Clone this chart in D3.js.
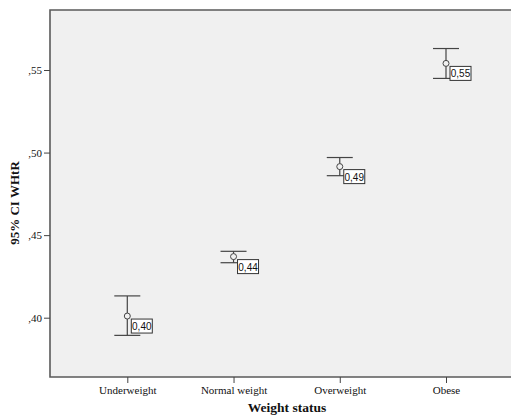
<!DOCTYPE html>
<html><head><meta charset="utf-8">
<script src="https://cdn.jsdelivr.net/npm/d3@7/dist/d3.min.js"></script>
<style>body{margin:0;background:#fff}svg{display:block}</style>
</head><body>
<svg id="c" width="511" height="418"></svg>
<script>
const categories = ["Underweight", "Normal weight", "Overweight", "Obese"];
const means = [0.401, 0.437, 0.4915, 0.554];
const lower = [0.3893, 0.4333, 0.486, 0.5449];
const upper = [0.4132, 0.4402, 0.497, 0.563];
const labels = ["0,40", "0,44", "0,49", "0,55"];
const yTicks = [0.40, 0.45, 0.50, 0.55];
const yTickLabels = [",40", ",45", ",50", ",55"];

const svg = d3.select("#c");
const L = 50, T = 10, B = 377, R = 530;
const x = d3.scalePoint().domain(categories).range([127.3, 446]);
const y = d3.scaleLinear().domain([0.40, 0.55]).range([317.7, 70]);

svg.append("rect").attr("x", L).attr("y", T).attr("width", R - L).attr("height", B - T)
  .attr("fill", "#f0f0f0").attr("stroke", "none");
svg.append("path").attr("d", `M${R},${T}H${L}V${B}H${R}`).attr("fill", "none")
  .attr("stroke", "#5a5a5a").attr("stroke-width", 1.6);

const yAxis = svg.append("g").attr("transform", `translate(${L},0)`)
  .call(d3.axisLeft(y).tickValues(yTicks).tickSize(6).tickPadding(2)
    .tickFormat((d, i) => yTickLabels[i]));
yAxis.select(".domain").remove();
yAxis.selectAll("line").attr("stroke", "#444");
yAxis.selectAll("text").attr("font-family", "Liberation Serif").attr("font-size", 11).attr("fill", "#111");

const xAxis = svg.append("g").attr("transform", `translate(0,${B})`)
  .call(d3.axisBottom(x).tickSize(6).tickPadding(3));
xAxis.select(".domain").remove();
xAxis.selectAll("line").attr("stroke", "#444");
xAxis.selectAll("text").attr("font-family", "Liberation Serif").attr("font-size", 11).attr("fill", "#111");

svg.append("text").attr("x", 287).attr("y", 412).attr("text-anchor", "middle")
  .attr("font-family", "Liberation Serif").attr("font-weight", "bold").attr("font-size", 13.5)
  .attr("fill", "#111").text("Weight status");
svg.append("text").attr("transform", "translate(19,203) rotate(-90)").attr("text-anchor", "middle")
  .attr("font-family", "Liberation Serif").attr("font-weight", "bold").attr("font-size", 13)
  .attr("fill", "#111").text("95% CI WHtR");

const g = svg.append("g");
categories.forEach((c, i) => {
  const cx = x(c);
  const st = "#444";
  g.append("line").attr("x1", cx).attr("x2", cx).attr("y1", y(upper[i])).attr("y2", y(lower[i]))
    .attr("stroke", st).attr("stroke-width", 1.2);
  g.append("line").attr("x1", cx - 13).attr("x2", cx + 13).attr("y1", y(upper[i])).attr("y2", y(upper[i]))
    .attr("stroke", st).attr("stroke-width", 1.2);
  g.append("line").attr("x1", cx - 13).attr("x2", cx + 13).attr("y1", y(lower[i])).attr("y2", y(lower[i]))
    .attr("stroke", st).attr("stroke-width", 1.2);
  g.append("circle").attr("cx", cx).attr("cy", y(means[i])).attr("r", 3)
    .attr("fill", "#f0f0f0").attr("stroke", st).attr("stroke-width", 1);
  const bx = cx + 4, by = y(means[i]) + 3;
  g.append("rect").attr("x", bx).attr("y", by).attr("width", 21).attr("height", 14)
    .attr("fill", "#fff").attr("stroke", "#333").attr("stroke-width", 1);
  g.append("text").attr("x", bx + 10.5).attr("y", by + 11).attr("text-anchor", "middle")
    .attr("font-family", "Liberation Sans").attr("font-size", 10).attr("fill", "#111").text(labels[i]);
});
</script>
</body></html>
